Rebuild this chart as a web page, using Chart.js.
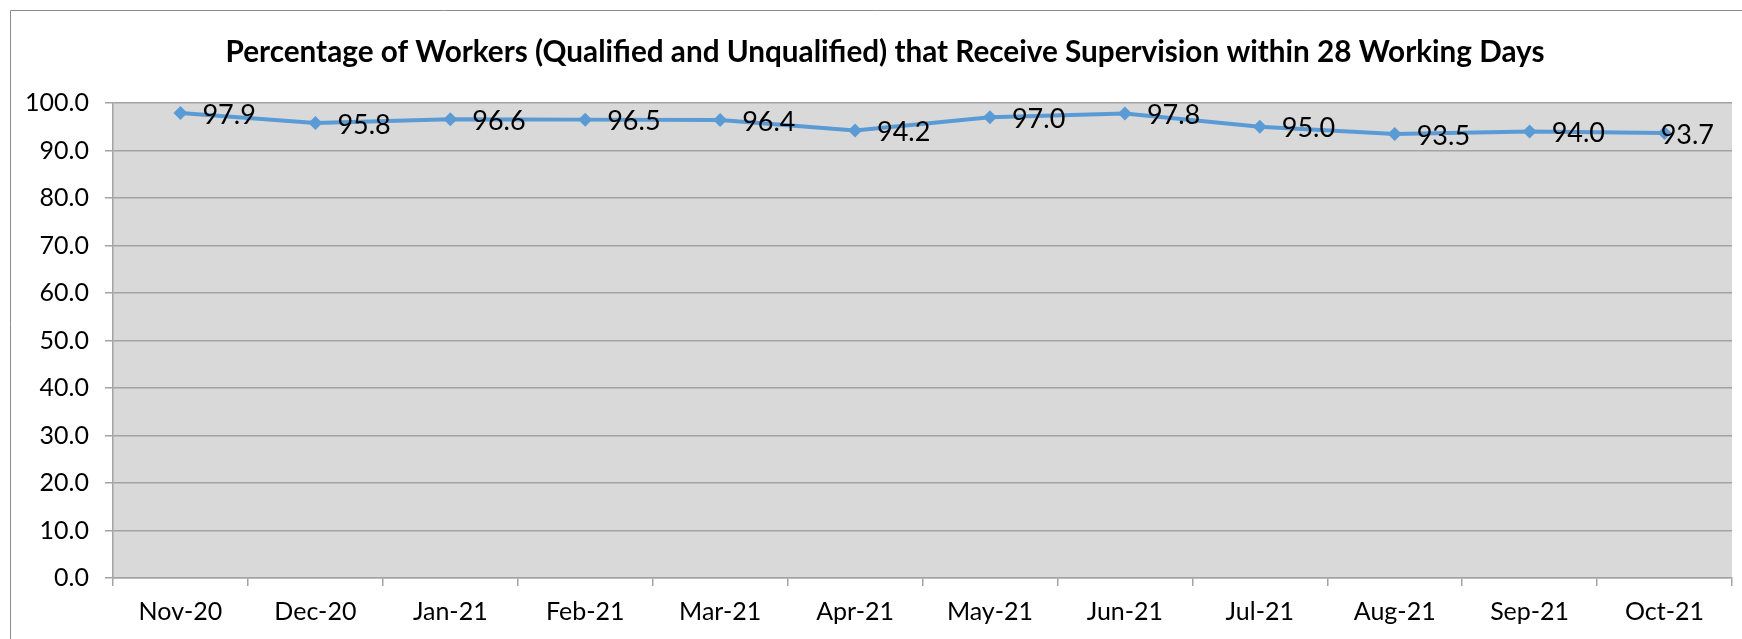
<!DOCTYPE html>
<html>
<head>
<meta charset="utf-8">
<script src="https://cdn.jsdelivr.net/npm/chart.js@4"></script>
<style>
  html, body { margin: 0; padding: 0; background: #fff; }
  canvas { display: block; }
</style>
</head>
<body>
<canvas id="supervisionChart" width="1742" height="639"></canvas>
<script>
// Chart data
const chartTitle = 'Percentage of Workers (Qualified and Unqualified) that Receive Supervision within 28 Working Days';
const months = ['Nov-20', 'Dec-20', 'Jan-21', 'Feb-21', 'Mar-21', 'Apr-21', 'May-21', 'Jun-21', 'Jul-21', 'Aug-21', 'Sep-21', 'Oct-21'];
const percentSupervised = [97.9, 95.8, 96.6, 96.5, 96.4, 94.2, 97.0, 97.8, 95.0, 93.5, 94.0, 93.7];
const yTicks = [0, 10, 20, 30, 40, 50, 60, 70, 80, 90, 100];

const fontFamily = 'Lato, "Open Sans", sans-serif';
const gridColor = '#A3A3A3';

// Plot background, outer frame and title
const decorPlugin = {
    id: 'decor',
    beforeDraw(chart) {
        const { ctx, chartArea } = chart;
        ctx.save();
        ctx.fillStyle = '#D9D9D9';
        ctx.fillRect(chartArea.left, chartArea.top, chartArea.right - chartArea.left, chartArea.bottom - chartArea.top);
        ctx.strokeStyle = '#8C8C8C';
        ctx.lineWidth = 1;
        ctx.beginPath();
        ctx.moveTo(10.5, chart.height);
        ctx.lineTo(10.5, 10.5);
        ctx.lineTo(chart.width, 10.5);
        ctx.stroke();
        ctx.restore();
    },
    afterDraw(chart) {
        const { ctx } = chart;
        ctx.save();
        ctx.font = 'bold 28px ' + fontFamily;
        const w = ctx.measureText(chartTitle).width;
        const size = 28 * 1320 / w;
        ctx.font = 'bold ' + size.toFixed(1) + 'px ' + fontFamily;
        ctx.fillStyle = '#000';
        ctx.textAlign = 'center';
        ctx.textBaseline = 'alphabetic';
        ctx.fillText(chartTitle, 885, 62);
        ctx.restore();
    }
};

// Value labels to the right of each point, kept inside the plot area
const valueLabels = {
    id: 'valueLabels',
    afterDatasetsDraw(chart) {
        const { ctx, chartArea } = chart;
        const meta = chart.getDatasetMeta(0);
        ctx.save();
        ctx.font = '27px ' + fontFamily;
        ctx.fillStyle = '#000';
        ctx.textAlign = 'left';
        ctx.textBaseline = 'middle';
        meta.data.forEach((pt, i) => {
            const text = percentSupervised[i].toFixed(1);
            const tw = ctx.measureText(text).width;
            const x = Math.min(pt.x + 22, chartArea.right - 18 - tw);
            ctx.fillText(text, x, pt.y + 2);
        });
        ctx.restore();
    }
};

const ctx = document.getElementById('supervisionChart').getContext('2d');
const supervisionChart = new Chart(ctx, {
    type: 'line',
    data: {
        labels: months,
        datasets: [{
            label: 'Supervision %',
            data: percentSupervised,
            borderColor: '#5B9BD5',
            backgroundColor: '#5B9BD5',
            borderWidth: 4,
            tension: 0,
            pointStyle: 'rectRot',
            pointRadius: 7,
            pointHoverRadius: 7,
            pointBorderWidth: 0
        }]
    },
    options: {
        responsive: false,
        animation: false,
        devicePixelRatio: 1,
        layout: {
            padding: { left: 11, top: 103, right: 10, bottom: 0 }
        },
        scales: {
            x: {
                offset: true,
                afterFit: scale => { scale.height = 61; },
                grid: {
                    offset: true,
                    drawOnChartArea: false,
                    drawTicks: true,
                    tickLength: 8,
                    color: gridColor,
                    lineWidth: 1.5
                },
                border: { display: true, color: gridColor, width: 1.5 },
                ticks: {
                    color: '#000',
                    padding: 11,
                    maxRotation: 0,
                    font: { family: fontFamily, size: 25 }
                }
            },
            y: {
                min: 0,
                max: 100,
                afterFit: scale => { scale.width = 102; },
                afterBuildTicks: scale => { scale.ticks = yTicks.map(v => ({ value: v })); },
                grid: {
                    drawTicks: true,
                    tickLength: 8,
                    color: gridColor,
                    lineWidth: 1.5
                },
                border: { display: true, color: gridColor, width: 1.5 },
                ticks: {
                    color: '#000',
                    padding: 16,
                    callback: v => Number(v).toFixed(1),
                    font: { family: fontFamily, size: 25 }
                }
            }
        },
        plugins: {
            legend: { display: false },
            title: { display: false },
            tooltip: { enabled: false }
        }
    },
    plugins: [decorPlugin, valueLabels]
});
</script>
</body>
</html>
